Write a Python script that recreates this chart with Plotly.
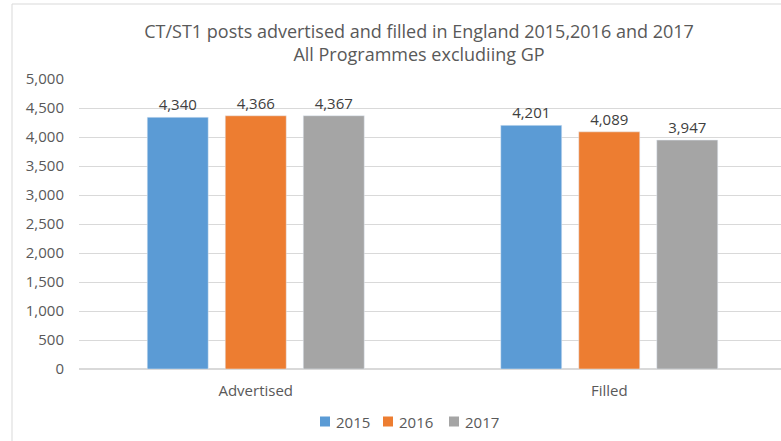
import plotly.graph_objects as go

categories = ["Advertised", "Filled"]
years = ["2015", "2016", "2017"]
values_2015 = [4340, 4201]
values_2016 = [4366, 4089]
values_2017 = [4367, 3947]
series = [values_2015, values_2016, values_2017]
colors = ["#5B9BD5", "#ED7D31", "#A5A5A5"]

W, H = 781, 441
ml, mt, mb = 79, 79, 72
plot_w = W - ml
plot_h = H - mt - mb


def px_x(x):
    return (x - ml) / plot_w


def px_y(y):
    return (mt + plot_h - y) / plot_h


fig = go.Figure()
for yr, vals, col in zip(years, series, colors):
    fig.add_trace(go.Bar(
        x=categories, y=vals, name=yr, marker_color=col,
        text=[f"{v:,}" for v in vals], textposition="outside",
        textfont=dict(size=15, color="#404040"), cliponaxis=False,
        showlegend=False,
    ))

font = "Open Sans, sans-serif"
fig.update_layout(
    width=W, height=H,
    margin=dict(l=ml, r=0, t=mt, b=mb),
    paper_bgcolor="white", plot_bgcolor="white",
    font=dict(family=font, color="#595959", size=15),
    barmode="group", bargap=0.338, bargroupgap=0.218,
    title=dict(
        text="CT/ST1 posts advertised and filled in England 2015,2016 and 2017<br>All Programmes excludiing GP",
        xref="container", yref="container", x=419 / W, xanchor="center",
        y=1 - 38 / H, yanchor="middle",
        font=dict(family=font, size=18, color="#595959"),
    ),
    xaxis=dict(range=[-0.5, -0.5 + plot_w / 353.5], showgrid=False, showline=False,
               ticks="", ticklabelstandoff=11, tickfont=dict(size=15, color="#595959")),
    yaxis=dict(range=[0, 5000], dtick=500, tickformat=",", showgrid=True,
               gridcolor="#D9D9D9", gridwidth=1, zeroline=True, zerolinecolor="#D9D9D9",
               showline=False, ticks="", ticklabelstandoff=14,
               tickfont=dict(size=15, color="#595959")),
    showlegend=False,
)

# legend row: coloured square followed by the year
legend_sq = [320, 383, 449]
for yr, col, sx in zip(years, colors, legend_sq):
    fig.add_shape(type="rect", xref="paper", yref="paper",
                  x0=px_x(sx), x1=px_x(sx + 10), y0=px_y(426.5), y1=px_y(416.5),
                  line=dict(width=0), fillcolor=col)
    fig.add_annotation(
        xref="paper", yref="paper",
        x=px_x(sx + 14), xanchor="left",
        y=px_y(421.5), yanchor="middle",
        text=yr, showarrow=False, font=dict(size=15, color="#595959"),
    )

# chart frame
fig.add_shape(type="rect", xref="paper", yref="paper",
              x0=px_x(12), x1=1.02, y0=px_y(H + 5), y1=px_y(4),
              line=dict(color="#D9D9D9", width=1), fillcolor="rgba(0,0,0,0)", layer="below")

fig.write_html("out.html")
